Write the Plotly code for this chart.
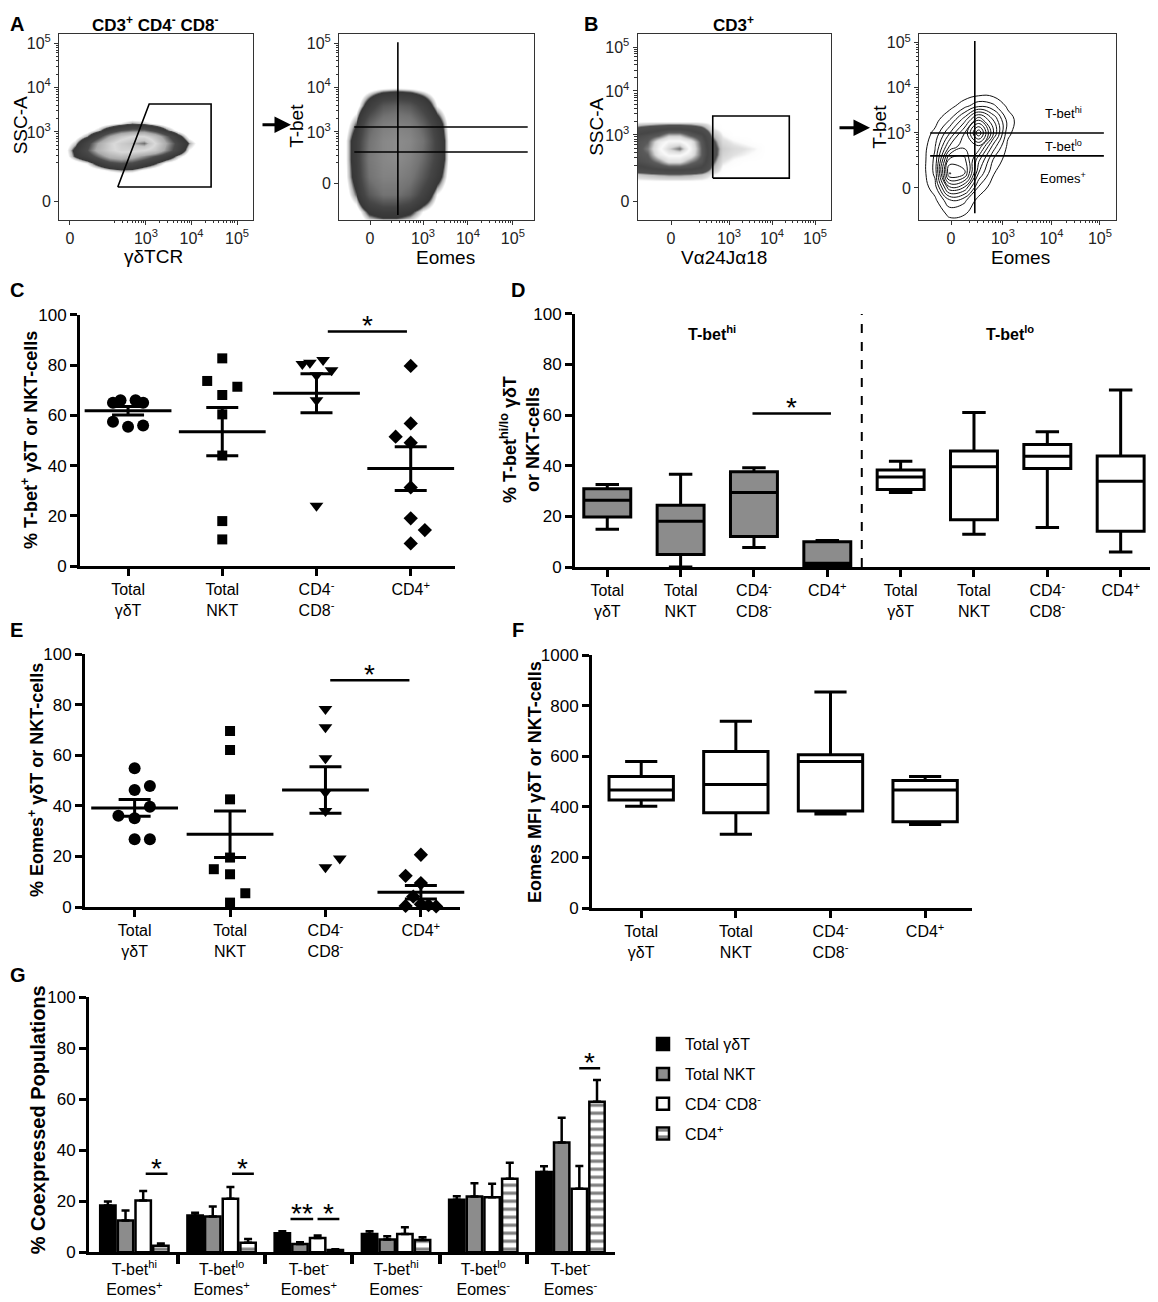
import math
import plotly.graph_objects as go

# Reference canvas is 1158 x 1302.  The photographed page places the figure
# 8px from the left and ~17px from the top, with a slight vertical scaling;
# positions below are given in reference pixels and mapped accordingly.
FW, FH = 1150, 1302
OX, OY, SY = 8.0, 17.2, 0.985
FONT = "Liberation Sans, Arial, Helvetica, sans-serif"

# ======================= DATA =======================
flow_ticktext = ["0", "10<sup>3</sup>", "10<sup>4</sup>", "10<sup>5</sup>"]

# --- Panel A left: SSC-A vs γδTCR density (display units, decades at 3,4,5) ---
aL_x = [1.2, 1.45, 1.7, 1.95, 2.2, 2.45, 2.7, 2.95, 3.2, 3.45, 3.7, 3.95, 4.2]
aL_y = [2.0, 2.15, 2.3, 2.45, 2.6, 2.75, 2.9, 3.05, 3.2, 3.35]
aL_z = [
    [0, 0, 0, 0, 0, 0, 0, 0, 0, 0, 0, 0, 0],
    [0, 0, 0.02, 0.04, 0.08, 0.11, 0.1, 0.05, 0.02, 0, 0, 0, 0],
    [0, 0.02, 0.07, 0.16, 0.26, 0.3, 0.28, 0.2, 0.13, 0.05, 0.02, 0, 0],
    [0.02, 0.13, 0.22, 0.35, 0.5, 0.55, 0.5, 0.4, 0.3, 0.2, 0.09, 0.02, 0],
    [0.03, 0.15, 0.3, 0.5, 0.65, 0.75, 0.75, 0.7, 0.6, 0.4, 0.22, 0.06, 0.01],
    [0.02, 0.09, 0.25, 0.45, 0.65, 0.8, 0.9, 1.0, 0.7, 0.45, 0.25, 0.11, 0.02],
    [0, 0.03, 0.11, 0.25, 0.45, 0.6, 0.7, 0.7, 0.55, 0.35, 0.16, 0.04, 0],
    [0, 0, 0.03, 0.09, 0.2, 0.3, 0.35, 0.35, 0.25, 0.13, 0.04, 0, 0],
    [0, 0, 0, 0.02, 0.04, 0.07, 0.11, 0.09, 0.05, 0.02, 0, 0, 0],
    [0, 0, 0, 0, 0, 0, 0, 0, 0, 0, 0, 0, 0],
]
aL_gate_x = [2.38, 3.07, 4.43, 4.43, 2.38]
aL_gate_y = [1.76, 3.63, 3.63, 1.76, 1.76]

# --- Panel A right: T-bet vs Eomes ---
aR_x = [1.2, 1.5, 1.8, 2.1, 2.4, 2.7, 3.0, 3.3, 3.6, 3.9]
aR_y = [0.8, 1.2, 1.6, 2.0, 2.4, 2.8, 3.2, 3.6, 4.0, 4.3]
aR_z = [
    [0, 0, 0, 0, 0, 0, 0, 0, 0, 0],
    [0, 0.02, 0.15, 0.2, 0.2, 0.15, 0.06, 0.01, 0, 0],
    [0, 0.12, 0.4, 0.55, 0.55, 0.45, 0.25, 0.06, 0, 0],
    [0.01, 0.18, 0.55, 0.7, 0.7, 0.6, 0.4, 0.18, 0.02, 0],
    [0.01, 0.2, 0.6, 0.75, 0.8, 0.7, 0.5, 0.25, 0.03, 0],
    [0.01, 0.2, 0.55, 0.75, 0.8, 0.75, 0.55, 0.25, 0.03, 0],
    [0, 0.12, 0.45, 0.65, 0.7, 0.65, 0.45, 0.2, 0.02, 0],
    [0, 0.02, 0.2, 0.4, 0.45, 0.4, 0.25, 0.06, 0, 0],
    [0, 0, 0.02, 0.04, 0.05, 0.04, 0.02, 0, 0, 0],
    [0, 0, 0, 0, 0, 0, 0, 0, 0, 0],
]
aR_vline = (2.44, 1.13, 5.02)            # x, y from, y to
aR_hlines = ([3.11, 2.55], 1.47, 5.33)    # ys, x from, x to

# --- Panel B left: SSC-A vs Va24Ja18 ---
bL_x = [0.6, 0.85, 1.1, 1.35, 1.6, 1.85, 2.1, 2.35, 2.6, 2.85, 3.1, 3.35, 3.6, 3.85, 4.1]
bL_y = [1.95, 2.1, 2.25, 2.4, 2.55, 2.7, 2.85, 3.0, 3.15, 3.3]
bL_z = [
    [0, 0, 0, 0, 0, 0, 0, 0, 0, 0, 0, 0, 0, 0, 0],
    [0.05, 0.06, 0.08, 0.1, 0.11, 0.11, 0.1, 0.07, 0.02, 0, 0, 0, 0, 0, 0],
    [0.2, 0.25, 0.3, 0.35, 0.38, 0.38, 0.35, 0.28, 0.1, 0.01, 0, 0, 0, 0, 0],
    [0.3, 0.35, 0.4, 0.5, 0.65, 0.65, 0.5, 0.4, 0.14, 0.03, 0.01, 0, 0, 0, 0],
    [0.35, 0.4, 0.45, 0.7, 0.8, 0.8, 0.7, 0.45, 0.18, 0.05, 0.03, 0.02, 0.01, 0, 0],
    [0.35, 0.4, 0.5, 0.75, 0.9, 1.0, 0.75, 0.45, 0.18, 0.06, 0.04, 0.03, 0.02, 0, 0],
    [0.35, 0.4, 0.45, 0.7, 0.8, 0.8, 0.7, 0.42, 0.15, 0.04, 0.02, 0.01, 0, 0, 0],
    [0.3, 0.33, 0.38, 0.45, 0.6, 0.6, 0.45, 0.35, 0.1, 0.02, 0, 0, 0, 0, 0],
    [0.12, 0.15, 0.2, 0.25, 0.28, 0.28, 0.25, 0.16, 0.03, 0, 0, 0, 0, 0, 0],
    [0, 0, 0, 0, 0, 0, 0, 0, 0, 0, 0, 0, 0, 0, 0],
]
bL_gate_x = [2.62, 4.40, 4.40, 2.62, 2.62]
bL_gate_y = [2.02, 2.02, 3.43, 3.43, 2.02]

# --- Panel B right: T-bet vs Eomes contour ---
bR_x = [1.3, 1.6, 1.9, 2.2, 2.5, 2.8, 3.1, 3.4]
bR_y = [0.9, 1.2, 1.5, 1.8, 2.1, 2.4, 2.7, 3.0, 3.3, 3.6, 3.9]
bR_z = [
    [0, 0, 0, 0, 0, 0, 0, 0],
    [0, 0, 0.6, 0.5, 0, 0, 0, 0],
    [0, 0.3, 1.5, 1.2, 0.2, 0, 0, 0],
    [0, 0.8, 4.0, 3.5, 1.0, 0.1, 0, 0],
    [0, 1.2, 6.5, 6.0, 2.2, 0.5, 0, 0],
    [0, 1.2, 5.5, 5.5, 3.0, 1.0, 0.1, 0],
    [0, 1.0, 3.5, 4.5, 4.5, 2.0, 0.3, 0],
    [0, 0.6, 2.2, 4.0, 7.0, 3.5, 0.6, 0],
    [0, 0.2, 1.0, 2.5, 4.5, 2.8, 0.8, 0],
    [0, 0, 0.2, 0.8, 1.5, 1.2, 0.3, 0],
    [0, 0, 0, 0, 0.1, 0.1, 0, 0],
]
bR_vline = (2.42, 1.22, 5.04)
bR_hlines = ([3.0, 2.49], 1.5, 5.08)
bR_gate_labels = ["T-bet<sup>hi</sup>", "T-bet<sup>lo</sup>", "Eomes<sup>+</sup>"]

# --- shared categories ---
cats = ["Total<br>γδT", "Total<br>NKT", "CD4<sup>-</sup><br>CD8<sup>-</sup>", "CD4<sup>+</sup>"]

# --- Panel C: % T-bet+ ---
c_gd = [65, 66, 66, 65, 57.5, 55.5, 56]
c_gd_dx = [-0.16, -0.08, 0.08, 0.16, -0.16, 0, 0.16]
c_nkt = [82.7, 73.7, 71.4, 68.1, 60.4, 44, 17.9, 10.6]
c_nkt_dx = [0, -0.16, 0.16, 0, 0, 0, 0, 0]
c_dn = [80.5, 81, 82, 78, 76, 66, 24]
c_dn_dx = [-0.15, -0.07, 0.07, 0.16, 0, 0, 0]
c_cd4 = [79.7, 56.8, 51.5, 49.1, 31.3, 19, 14.3, 9]
c_cd4_dx = [0, 0, -0.16, 0, 0, 0, 0.15, 0]
c_mean = [61.8, 53.5, 68.8, 38.8]
c_sem = [1.7, 9.6, 7.8, 8.7]
c_sig = (2.12, 2.96, 93.4)

# --- Panel D: T-bet hi / lo box plots ---
d_hi_q1 = [19.8, 4.9, 12.1, 0.3]
d_hi_med = [26.4, 18.1, 29.4, 1.5]
d_hi_q3 = [30.9, 24.4, 37.6, 10.0]
d_hi_lo = [14.9, 0.0, 7.7, 0.0]
d_hi_hi = [32.6, 36.7, 39.2, 10.5]
d_lo_q1 = [30.6, 18.7, 38.9, 14.1]
d_lo_med = [35.6, 39.6, 43.8, 33.9]
d_lo_q3 = [38.3, 45.8, 48.4, 43.9]
d_lo_lo = [29.4, 12.9, 15.6, 5.9]
d_lo_hi = [41.8, 61.1, 53.4, 69.9]
d_sig = (1.98, 3.05, 60.7)
d_divider = 3.47

# --- Panel E: % Eomes+ ---
e_gd = [54.9, 46.3, 47.9, 36.1, 35.1, 39.7, 26.8, 26.8]
e_gd_dx = [0, 0, 0.16, -0.17, 0, 0.16, 0, 0.16]
e_nkt = [69.6, 62.1, 42.6, 19.6, 15, 13, 5.5, 1.8]
e_nkt_dx = [0, 0, 0, 0, -0.17, 0, 0.16, 0]
e_dn = [78.3, 71.1, 58.8, 45.4, 38, 15.8, 19.2]
e_dn_dx = [0, 0, 0, 0, 0, 0, 0.15]
e_cd4 = [20.7, 12.4, 9.5, 4.2, 1.2, 0.5, 0.8, 0.3]
e_cd4_dx = [0, -0.16, 0, -0.08, 0, -0.16, 0.08, 0.16]
e_mean = [39.2, 28.8, 46.3, 5.9]
e_sem = [3.3, 9.2, 9.2, 2.7]
e_sig = (2.05, 2.88, 89.7)

# --- Panel F: Eomes MFI box plots ---
f_q1 = [427, 377, 384, 341]
f_med = [467, 489, 579, 467]
f_q3 = [520, 619, 606, 504]
f_lo = [403, 292, 372, 331]
f_hi = [579, 738, 854, 520]

# --- Panel G: co-expressed populations ---
g_labels = ["T-bet<sup>hi</sup><br>Eomes<sup>+</sup>", "T-bet<sup>lo</sup><br>Eomes<sup>+</sup>",
            "T-bet<sup>-</sup><br>Eomes<sup>+</sup>", "T-bet<sup>hi</sup><br>Eomes<sup>-</sup>",
            "T-bet<sup>lo</sup><br>Eomes<sup>-</sup>", "T-bet<sup>-</sup><br>Eomes<sup>-</sup>"]
g_series = ["Total γδT", "Total NKT", "CD4<sup>-</sup> CD8<sup>-</sup>", "CD4<sup>+</sup>"]
g_gd = [18.3, 14.4, 7.5, 7.2, 20.6, 31.5]
g_gd_err = [1.6, 1.1, 0.8, 1.1, 1.4, 2.2]
g_nkt = [12.5, 14.0, 3.3, 5.0, 21.9, 43.0]
g_nkt_err = [3.9, 4.0, 0.6, 1.3, 5.2, 9.7]
g_dn = [20.3, 21.0, 5.6, 7.2, 21.6, 24.9]
g_dn_err = [3.7, 4.6, 1.0, 2.6, 5.3, 8.9]
g_cd4 = [2.6, 3.7, 0.9, 4.8, 28.8, 59.0]
g_cd4_err = [0.9, 1.5, 0.3, 1.1, 6.3, 8.5]
g_sig = [(0.13, 0.38, 30.8, "*"), (1.12, 1.37, 30.8, "*"), (1.79, 2.05, 13.1, "**"),
         (2.10, 2.35, 13.1, "*"), (5.10, 5.34, 72.1, "*")]

# ======================= HELPERS =======================
def px2x(px):
    return min(1.0, max(0.0, (px - OX) / FW))


def px2y(py):
    return min(1.0, max(0.0, 1 - (py - OY) / (SY * FH)))


def xdom(a, b):
    return [px2x(a), px2x(b)]


def ydom(top, bottom):
    return [px2y(bottom), px2y(top)]


def minor_ticks(zero_pos, hi):
    out = []
    for d in (2, 3, 4):
        for k in range(2, 10):
            v = d + math.log10(k)
            if zero_pos + 0.15 < v < hi:
                out.append(v)
    return out


def flow_axis(dom, rng, zero_pos, anchor):
    return dict(domain=dom, range=rng, anchor=anchor, tickmode="array",
                tickvals=[zero_pos, 3, 4, 5], ticktext=flow_ticktext,
                ticks="outside", ticklen=4, tickwidth=1, tickcolor="#333",
                showline=True, mirror=True, linecolor="#333", linewidth=1,
                showgrid=False, zeroline=False,
                tickfont=dict(family=FONT, size=16, color="#222"),
                minor=dict(tickvals=minor_ticks(zero_pos, rng[1]), ticks="outside",
                           ticklen=2.5, tickwidth=1, tickcolor="#333"))


def stat_x(dom, anchor, rng, tv, tt):
    return dict(domain=dom, anchor=anchor, range=rng, tickmode="array", tickvals=tv,
                ticktext=tt, ticks="outside", ticklen=7, tickwidth=3, tickcolor="black",
                showline=True, linewidth=3, linecolor="black", showgrid=False,
                zeroline=False, tickfont=dict(family=FONT, size=16, color="black"))


def stat_y(dom, anchor, rng, dtick):
    return dict(domain=dom, anchor=anchor, range=rng, tickmode="linear", tick0=0,
                dtick=dtick, ticks="outside", ticklen=7, tickwidth=3, tickcolor="black",
                showline=True, linewidth=3, linecolor="black", showgrid=False,
                zeroline=False, tickfont=dict(family=FONT, size=17, color="black"))


def ann(text, xpx, ypx, size=16, bold=False, angle=0, xanchor="center", yanchor="middle", yshift=0):
    if bold:
        text = "<b>" + text + "</b>"
    return dict(text=text, x=px2x(xpx), y=px2y(ypx), xref="paper", yref="paper",
                showarrow=False, font=dict(family=FONT, size=size, color="black"),
                textangle=angle, xanchor=xanchor, yanchor=yanchor, yshift=yshift)


fig = go.Figure()
shapes = []
annotations = []

# ======================= FLOW PANELS =======================
cs_aL = [[0, "rgb(255,255,255)"], [0.06, "rgb(255,255,255)"], [0.1, "rgb(190,190,190)"],
         [0.125, "rgb(55,55,55)"], [0.3, "rgb(75,75,75)"], [0.45, "rgb(170,170,170)"],
         [0.7, "rgb(218,218,218)"], [0.88, "rgb(195,195,195)"], [1, "rgb(110,110,110)"]]
cs_aR = [[0, "rgb(255,255,255)"], [0.06, "rgb(255,255,255)"], [0.1, "rgb(180,180,180)"],
         [0.13, "rgb(55,55,55)"], [0.3, "rgb(70,70,70)"], [0.55, "rgb(115,115,115)"],
         [0.8, "rgb(140,140,140)"], [1, "rgb(150,150,150)"]]
cs_bL = [[0, "rgb(255,255,255)"], [0.015, "rgb(252,252,252)"], [0.03, "rgb(225,225,225)"],
         [0.09, "rgb(185,185,185)"], [0.12, "rgb(80,80,80)"], [0.3, "rgb(70,70,70)"],
         [0.45, "rgb(90,90,90)"], [0.62, "rgb(215,215,215)"], [0.78, "rgb(250,250,250)"],
         [0.9, "rgb(215,215,215)"], [1, "rgb(110,110,110)"]]

fig.add_trace(go.Heatmap(x=aL_x, y=aL_y, z=aL_z, zsmooth="best", colorscale=cs_aL, zmin=0,
                         zmax=1, showscale=False, hoverinfo="skip", xaxis="x", yaxis="y"))
fig.add_trace(go.Scatter(x=aL_gate_x, y=aL_gate_y, mode="lines", line=dict(color="black", width=1.6),
                         xaxis="x", yaxis="y", showlegend=False, hoverinfo="skip"))

fig.add_trace(go.Heatmap(x=aR_x, y=aR_y, z=aR_z, zsmooth="best", colorscale=cs_aR, zmin=0,
                         zmax=1, showscale=False, hoverinfo="skip", xaxis="x2", yaxis="y2"))
fig.add_trace(go.Scatter(x=[aR_vline[0], aR_vline[0]], y=[aR_vline[1], aR_vline[2]], mode="lines",
                         line=dict(color="black", width=1.6), xaxis="x2", yaxis="y2",
                         showlegend=False, hoverinfo="skip"))
for yv in aR_hlines[0]:
    fig.add_trace(go.Scatter(x=[aR_hlines[1], aR_hlines[2]], y=[yv, yv], mode="lines",
                             line=dict(color="black", width=1.6), xaxis="x2", yaxis="y2",
                             showlegend=False, hoverinfo="skip"))

fig.add_trace(go.Heatmap(x=bL_x, y=bL_y, z=bL_z, zsmooth="best", colorscale=cs_bL, zmin=0,
                         zmax=1, showscale=False, hoverinfo="skip", xaxis="x3", yaxis="y3"))
fig.add_trace(go.Scatter(x=bL_gate_x, y=bL_gate_y, mode="lines", line=dict(color="black", width=1.6),
                         xaxis="x3", yaxis="y3", showlegend=False, hoverinfo="skip"))

fig.add_trace(go.Contour(x=bR_x, y=bR_y, z=bR_z, contours=dict(coloring="lines", start=0.45, end=6.6, size=0.6),
                         line=dict(width=1, smoothing=1.3), colorscale=[[0, "#111"], [1, "#111"]],
                         showscale=False, hoverinfo="skip", xaxis="x4", yaxis="y4"))
fig.add_trace(go.Scatter(x=[bR_vline[0], bR_vline[0]], y=[bR_vline[1], bR_vline[2]], mode="lines",
                         line=dict(color="black", width=1.6), xaxis="x4", yaxis="y4",
                         showlegend=False, hoverinfo="skip"))
for yv in bR_hlines[0]:
    fig.add_trace(go.Scatter(x=[bR_hlines[1], bR_hlines[2]], y=[yv, yv], mode="lines",
                             line=dict(color="black", width=1.6), xaxis="x4", yaxis="y4",
                             showlegend=False, hoverinfo="skip"))

# ======================= PANEL C & E (dot plots) =======================
symbols = [("circle", 12), ("square", 10), ("triangle-down", 12), ("diamond", 11)]


def dot_panel(groups, means, sems, xa, ya):
    for i, (vals, dx) in enumerate(groups):
        sym, size = symbols[i]
        fig.add_trace(go.Scatter(x=[i + d for d in dx], y=vals, mode="markers",
                                 marker=dict(symbol=sym, size=size, color="black"),
                                 cliponaxis=False, showlegend=False, xaxis=xa, yaxis=ya))
    fig.add_trace(go.Scatter(x=list(range(len(means))), y=means, mode="markers",
                             marker=dict(symbol="line-ew-open", size=62, color="black",
                                         line=dict(width=3, color="black")),
                             error_y=dict(type="data", array=sems, width=16, thickness=3, color="black"),
                             cliponaxis=False, showlegend=False, xaxis=xa, yaxis=ya))


dot_panel([(c_gd, c_gd_dx), (c_nkt, c_nkt_dx), (c_dn, c_dn_dx), (c_cd4, c_cd4_dx)],
          c_mean, c_sem, "x5", "y5")
dot_panel([(e_gd, e_gd_dx), (e_nkt, e_nkt_dx), (e_dn, e_dn_dx), (e_cd4, e_cd4_dx)],
          e_mean, e_sem, "x7", "y7")

# ======================= PANEL D (box) =======================
fig.add_trace(go.Box(x=[0, 1, 2, 3], q1=d_hi_q1, median=d_hi_med, q3=d_hi_q3,
                     lowerfence=d_hi_lo, upperfence=d_hi_hi, fillcolor="#8c8c8c",
                     line=dict(color="black", width=3), width=0.64, whiskerwidth=0.5,
                     boxpoints=False, showlegend=False, xaxis="x6", yaxis="y6"))
fig.add_trace(go.Box(x=[4, 5, 6, 7], q1=d_lo_q1, median=d_lo_med, q3=d_lo_q3,
                     lowerfence=d_lo_lo, upperfence=d_lo_hi, fillcolor="white",
                     line=dict(color="black", width=3), width=0.64, whiskerwidth=0.5,
                     boxpoints=False, showlegend=False, xaxis="x6", yaxis="y6"))

# ======================= PANEL F (box) =======================
fig.add_trace(go.Box(x=[0, 1, 2, 3], q1=f_q1, median=f_med, q3=f_q3, lowerfence=f_lo,
                     upperfence=f_hi, fillcolor="white", line=dict(color="black", width=3),
                     width=0.68, whiskerwidth=0.5, boxpoints=False, showlegend=False,
                     xaxis="x8", yaxis="y8"))

# ======================= PANEL G (bars) =======================
g_x = list(range(len(g_labels)))
g_specs = [
    (g_gd, g_gd_err, dict(color="black")),
    (g_nkt, g_nkt_err, dict(color="#8c8c8c")),
    (g_dn, g_dn_err, dict(color="white")),
    (g_cd4, g_cd4_err, dict(color="white", pattern=dict(shape="-", fgcolor="black", bgcolor="white",
                                                         size=8, solidity=0.4))),
]
for k, (vals, errs, mk) in enumerate(g_specs):
    mk = dict(mk)
    mk["line"] = dict(color="black", width=2.5)
    fig.add_trace(go.Bar(x=g_x, y=vals, name=g_series[k], marker=mk,
                         error_y=dict(type="data", symmetric=False, array=errs,
                                      arrayminus=[0] * len(errs), color="black",
                                      thickness=2.5, width=4),
                         legendgroup="g%d" % k, xaxis="x9", yaxis="y9"))

# ======================= SIGNIFICANCE BARS =======================
def sig(xa, ya, x0, x1, yv, star="*", size=28):
    shapes.append(dict(type="line", xref=xa, yref=ya, x0=x0, x1=x1, y0=yv, y1=yv,
                       line=dict(color="black", width=2.5)))
    annotations.append(dict(text=star, xref=xa, yref=ya, x=(x0 + x1) / 2, y=yv,
                            showarrow=False, yanchor="bottom", yshift=-12,
                            font=dict(family=FONT, size=size, color="black")))


sig("x5", "y5", c_sig[0], c_sig[1], c_sig[2])
sig("x7", "y7", e_sig[0], e_sig[1], e_sig[2])
sig("x6", "y6", d_sig[0], d_sig[1], d_sig[2])
for (x0, x1, yv, st) in g_sig:
    sig("x9", "y9", x0, x1, yv, st)

shapes.append(dict(type="line", xref="x6", yref="y6", x0=d_divider, x1=d_divider, y0=0, y1=100,
                   line=dict(color="black", width=2, dash="dash")))

# ======================= AXES =======================
layout_axes = {}
# flow plots (top edge kept just below the panel titles)
layout_axes["xaxis"] = flow_axis(xdom(59, 253), [1.09, 5.35], 1.33, "y")
layout_axes["yaxis"] = flow_axis(ydom(34, 220), [1.02, 5.21], 1.43, "x")
layout_axes["xaxis2"] = flow_axis(xdom(339, 534), [1.13, 5.47], 1.82, "y2")
layout_axes["yaxis2"] = flow_axis(ydom(34, 220), [1.02, 5.21], 1.85, "x2")
layout_axes["xaxis3"] = flow_axis(xdom(637.5, 831), [0.87, 5.37], 1.65, "y3")
layout_axes["yaxis3"] = flow_axis(ydom(34, 220), [1.07, 5.30], 1.48, "x3")
layout_axes["xaxis4"] = flow_axis(xdom(919, 1116), [1.27, 5.33], 1.93, "y4")
layout_axes["yaxis4"] = flow_axis(ydom(34, 220), [1.07, 5.20], 1.78, "x4")
# C
layout_axes["xaxis5"] = stat_x(xdom(80, 455), "y5", [-0.51, 3.47], [0, 1, 2, 3], cats)
layout_axes["yaxis5"] = stat_y(ydom(315, 566), "x5", [0, 100], 20)
# D
layout_axes["xaxis6"] = stat_x(xdom(575, 1150), "y6", [-0.44, 7.40], list(range(8)), cats + cats)
layout_axes["yaxis6"] = stat_y(ydom(314, 567), "x6", [0, 100], 20)
# E
layout_axes["xaxis7"] = stat_x(xdom(85, 460), "y7", [-0.52, 3.41], [0, 1, 2, 3], cats)
layout_axes["yaxis7"] = stat_y(ydom(654, 907), "x7", [0, 100], 20)
# F
layout_axes["xaxis8"] = stat_x(xdom(592, 971.5), "y8", [-0.52, 3.49], [0, 1, 2, 3], cats)
layout_axes["yaxis8"] = stat_y(ydom(655, 908), "x8", [0, 1000], 200)
# G
gx = stat_x(xdom(89, 615), "y9", [-0.52, 5.51], g_x, g_labels)
gx["ticks"] = ""
gx["minor"] = dict(tickvals=[0.5, 1.5, 2.5, 3.5, 4.5], ticks="outside", ticklen=9, tickwidth=4,
                   tickcolor="black")
layout_axes["xaxis9"] = gx
layout_axes["yaxis9"] = stat_y(ydom(997, 1252), "x9", [0, 100], 20)

# ======================= TEXT =======================
annotations += [
    # panel letters / titles of the top row pinned to the top edge of the figure
    ann("A", OX, 0, 20, True, xanchor="left", yanchor="top", yshift=6),
    ann("B", 591, 0, 20, True, yanchor="top", yshift=6),
    ann("C", OX, 290, 20, True, xanchor="left"),
    ann("D", 518, 290, 20, True), ann("E", OX, 630, 20, True, xanchor="left"),
    ann("F", 518, 630, 20, True), ann("G", OX, 975, 20, True, xanchor="left"),
    ann("CD3<sup>+</sup> CD4<sup>-</sup> CD8<sup>-</sup>", 155, 0, 17, True, yanchor="top", yshift=6),
    ann("CD3<sup>+</sup>", 733, 0, 17, True, yanchor="top", yshift=6),
    ann("SSC-A", OX, 126, 19, angle=-90, xanchor="left"), ann("γδTCR", 153, 257, 19),
    ann("T-bet", 297, 126, 19, angle=-90), ann("Eomes", 445, 258, 19),
    ann("SSC-A", 597, 127, 19, angle=-90), ann("Vα24Jα18", 724, 258, 19),
    ann("T-bet", 880, 127, 19, angle=-90), ann("Eomes", 1020, 258, 19),
    ann(bR_gate_labels[0], 1063, 113, 13), ann(bR_gate_labels[1], 1063, 146, 13),
    ann(bR_gate_labels[2], 1063, 178, 13),
    ann("% T-bet<sup>+</sup> γδT or NKT-cells", 30, 440, 18, True, -90),
    ann("% T-bet<sup>hi/lo</sup> γδT<br>or NKT-cells", 520, 440, 18, True, -90),
    ann("% Eomes<sup>+</sup> γδT or NKT-cells", 36, 780, 18, True, -90),
    ann("Eomes MFI γδT or NKT-cells", 535, 782, 18, True, -90),
    ann("% Coexpressed Populations", 38, 1120, 20, True, -90),
    ann("T-bet<sup>hi</sup>", 712, 333, 16, True), ann("T-bet<sup>lo</sup>", 1010, 333, 16, True),
]
# arrows between gating plots
for (x_head, x_tail, y_a) in [(291, 261, 125), (870, 838, 128)]:
    annotations.append(dict(x=px2x(x_head), y=px2y(y_a), xref="paper", yref="paper",
                            ax=x_tail - x_head, ay=0, axref="pixel", ayref="pixel", text="",
                            showarrow=True, arrowhead=2, arrowsize=1.1, arrowwidth=3,
                            arrowcolor="black"))

fig.update_layout(
    width=FW, height=FH, margin=dict(l=0, r=0, t=0, b=0),
    paper_bgcolor="white", plot_bgcolor="white",
    font=dict(family=FONT, size=16, color="black"),
    barmode="group", bargap=0.19, bargroupgap=0.13,
    showlegend=True,
    legend=dict(x=px2x(641), y=px2y(1027), xanchor="left", yanchor="top",
                font=dict(family=FONT, size=16, color="black"), bgcolor="rgba(0,0,0,0)",
                tracegroupgap=6, itemwidth=34),
    shapes=shapes, annotations=annotations,
    **layout_axes,
)

fig.write_html("out.html")
